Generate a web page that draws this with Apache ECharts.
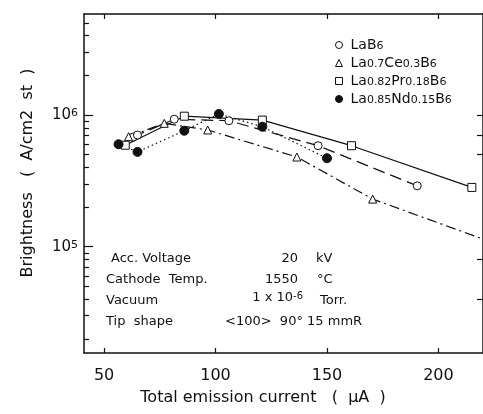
<!DOCTYPE html>
<html>
<head>
<meta charset="utf-8">
<script src="https://cdn.jsdelivr.net/npm/echarts@6/dist/echarts.min.js"></script>
<style>
  html, body { margin: 0; padding: 0; background: #fff; }
  #chart { width: 483px; height: 414px; }
</style>
</head>
<body>
<div id="chart"></div>
<script>
// emission current (uA) and brightness (A/cm2 st) per cathode
const labX = [63, 65, 81.5, 106, 146, 190.5];
const labY = [6.8e5, 7.05e5, 9.3e5, 9.05e5, 5.85e5, 2.9e5];
const ceX = [61, 77, 96.5, 136.5, 170.5, 226];
const ceY = [6.85e5, 8.65e5, 7.7e5, 4.8e5, 2.3e5, 1.05e5];
const prX = [59.5, 86, 121, 161, 215];
const prY = [5.9e5, 9.8e5, 9.15e5, 5.85e5, 2.82e5];
const ndX = [56.5, 65, 86, 101.5, 121, 150];
const ndY = [6.0e5, 5.25e5, 7.6e5, 1.02e6, 8.15e5, 4.7e5];

const seriesNames = ['LaB6', 'La0.7Ce0.3B6', 'La0.82Pr0.18B6', 'La0.85Nd0.15B6'];

const xTicks = [50, 100, 150, 200];
const yMajor = [1e5, 1e6];
const yMinor = [2e4, 3e4, 4e4, 5e4, 6e4, 7e4, 8e4, 9e4,
  2e5, 3e5, 4e5, 5e5, 6e5, 7e5, 8e5, 9e5, 2e6, 3e6, 4e6, 5e6];
const yRight = [4e4, 8e4, 5e5, 7e5, 1e6];

const xMin = 41, xMax = 220;
const yMin = 1.56e4, yMax = 5.85e6;

const INK = '#111';
const FONT = 'DejaVu Sans';
const lg = Math.log10;

const pairs = (xs, ys) => xs.map((x, i) => [x, lg(ys[i])]);
const subRich = name => name.replace(/([A-Za-z]+)([\d.]+)/g, '{n|$1}{s|$2}');

const mkSeries = (name, xs, ys, symbol, size, fill, dash) => ({
  name: name,
  type: 'line',
  data: pairs(xs, ys),
  symbol: symbol,
  symbolSize: size,
  showSymbol: true,
  clip: true,
  itemStyle: { color: fill, borderColor: INK, borderWidth: 1 },
  lineStyle: { color: INK, width: 1.2, type: dash },
  emphasis: { disabled: true },
  animation: false
});

const textRow = (x, y, text, align, rich) => ({
  type: 'text', x: x, y: y,
  style: {
    text: text, fill: INK, font: '13px "' + FONT + '"',
    align: align || 'left', verticalAlign: 'middle', rich: rich
  }
});

const supRich = {
  n: { fontFamily: FONT, fontSize: 13, lineHeight: 13, verticalAlign: 'bottom', padding: [5, 0, 0, 0], color: INK },
  s: { fontFamily: FONT, fontSize: 10, lineHeight: 10, verticalAlign: 'top', color: INK }
};

const getOptionChart = () => {
  return {
    backgroundColor: '#fff',
    animation: false,
    grid: { left: 84, right: -4, top: 14, bottom: 61, containLabel: false },
    legend: {
      orient: 'vertical',
      left: 330, top: 33,
      itemWidth: 7, itemHeight: 7, itemGap: 0,
      selectedMode: false,
      itemStyle: { borderWidth: 1, borderColor: INK },
      data: [
        { name: seriesNames[0], icon: 'circle' },
        { name: seriesNames[1], icon: 'triangle' },
        { name: seriesNames[2], icon: 'rect' },
        { name: seriesNames[3], icon: 'circle' }
      ],
      formatter: subRich,
      textStyle: {
        color: INK,
        padding: [0, 0, 0, 3],
        rich: {
          n: { fontFamily: FONT, fontSize: 14, lineHeight: 14, verticalAlign: 'top', padding: [0, 0, 4, 0], color: INK },
          s: { fontFamily: FONT, fontSize: 11, lineHeight: 11, verticalAlign: 'bottom', color: INK }
        }
      }
    },
    xAxis: [
      {
        type: 'value', min: xMin, max: xMax, position: 'bottom',
        axisLine: { show: true, onZero: false, lineStyle: { color: INK, width: 1.5 } },
        axisTick: { show: true, inside: true, length: 5, customValues: xTicks, lineStyle: { color: INK, width: 1.2 } },
        axisLabel: { customValues: xTicks, color: INK, fontFamily: FONT, fontSize: 16, margin: 15 },
        splitLine: { show: false }
      },
      {
        type: 'value', min: xMin, max: xMax, position: 'top',
        axisLine: { show: true, onZero: false, lineStyle: { color: INK, width: 1.5 } },
        axisTick: { show: true, inside: true, length: 5, customValues: xTicks, lineStyle: { color: INK, width: 1.2 } },
        axisLabel: { show: false },
        splitLine: { show: false }
      }
    ],
    yAxis: [
      {
        type: 'value', min: lg(yMin), max: lg(yMax), position: 'left',
        axisLine: { show: true, onZero: false, lineStyle: { color: INK, width: 1.5 } },
        axisTick: { show: true, inside: true, length: 9, customValues: yMajor.map(lg), lineStyle: { color: INK, width: 1.2 } },
        axisLabel: {
          customValues: yMajor.map(lg), margin: 6,
          formatter: v => '{n|10}{s|' + Math.round(v) + '}',
          rich: {
            n: { fontFamily: FONT, fontSize: 15, lineHeight: 15, verticalAlign: 'bottom', padding: [5, 0, 0, 0], color: INK },
            s: { fontFamily: FONT, fontSize: 11, lineHeight: 11, verticalAlign: 'top', color: INK }
          }
        },
        splitLine: { show: false }
      },
      {
        type: 'value', min: lg(yMin), max: lg(yMax), position: 'left',
        axisLine: { show: false },
        axisTick: { show: true, inside: true, length: 5, customValues: yMinor.map(lg), lineStyle: { color: INK, width: 1.2 } },
        axisLabel: { show: false },
        splitLine: { show: false }
      },
      {
        type: 'value', min: lg(yMin), max: lg(yMax), position: 'right',
        axisLine: { show: true, onZero: false, lineStyle: { color: INK, width: 1.5 } },
        axisTick: { show: true, inside: true, length: 6, customValues: yRight.map(lg), lineStyle: { color: INK, width: 1.2 } },
        axisLabel: { show: false },
        splitLine: { show: false }
      }
    ],
    series: [
      mkSeries(seriesNames[0], labX, labY, 'circle', 8, '#fff', [12, 6]),
      mkSeries(seriesNames[1], ceX, ceY, 'triangle', 8, '#fff', [10, 4, 2, 4]),
      mkSeries(seriesNames[2], prX, prY, 'rect', 8, '#fff', 'solid'),
      mkSeries(seriesNames[3], ndX, ndY, 'circle', 9, INK, [1.5, 3])
    ],
    graphic: [
      {
        type: 'text', x: 28, y: 173, rotation: Math.PI / 2,
        style: { text: 'Brightness   (  A/cm2  st  )', fill: INK, font: '16px "' + FONT + '"', align: 'center', verticalAlign: 'middle' }
      },
      {
        type: 'text', x: 263, y: 398,
        style: { text: 'Total emission current   (  \u03bcA  )', fill: INK, font: '16px "' + FONT + '"', align: 'center', verticalAlign: 'middle' }
      },
      textRow(111, 259, 'Acc. Voltage'),
      textRow(298, 259, '20', 'right'),
      textRow(316, 259, 'kV'),
      textRow(106, 280, 'Cathode  Temp.'),
      textRow(298, 280, '1550', 'right'),
      textRow(317, 280, '\u00b0C'),
      textRow(106, 301, 'Vacuum'),
      textRow(303, 298, '{n|1 x 10}{s|-6}', 'right', supRich),
      textRow(320, 301, 'Torr.'),
      textRow(106, 322, 'Tip  shape'),
      textRow(225, 322, '<100>  90\u00b0 15 mmR')
    ]
  };
};

const initCharts = () => {
  const chart = echarts.init(document.getElementById('chart'), null, { renderer: 'canvas' });
  chart.setOption(getOptionChart());
};

window.addEventListener('load', () => {
  initCharts();
});
</script>
</body>
</html>
